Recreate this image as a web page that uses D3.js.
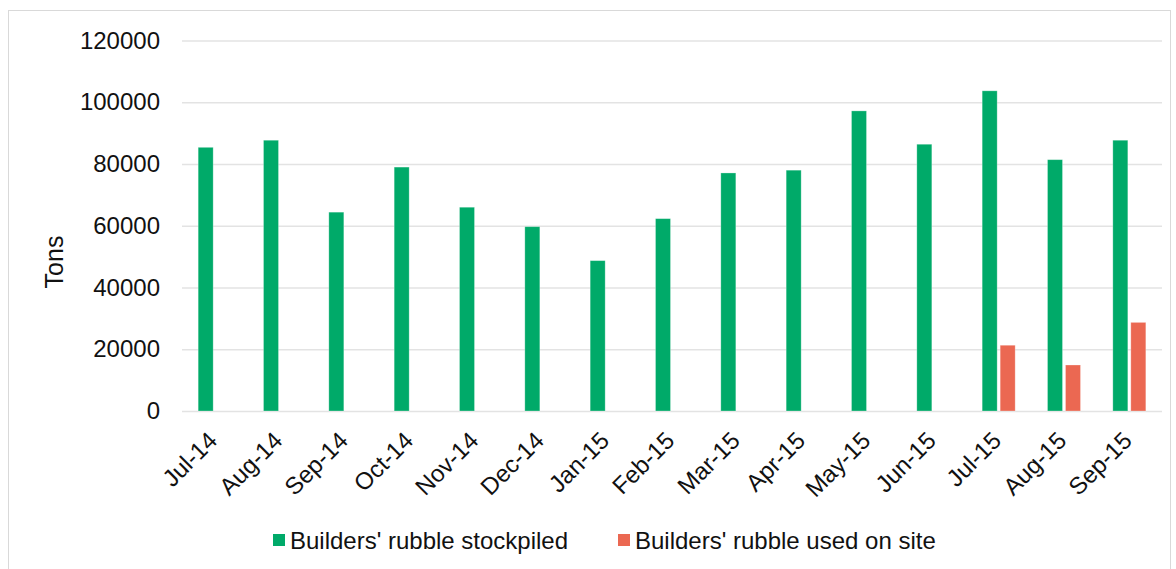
<!DOCTYPE html>
<html>
<head>
    <meta charset="utf-8">
    <title>Builders' rubble</title>
    <script src="https://d3js.org/d3.v7.min.js"></script>
    <style>
        body { margin: 0; background: #fff; }
        text { font-family: 'Liberation Sans', Arial, sans-serif; fill: #111; }
    </style>
</head>
<body>
    <svg id="chart" width="1176" height="569"></svg>

    <script>
        // values
        const months = ["Jul-14", "Aug-14", "Sep-14", "Oct-14", "Nov-14", "Dec-14", "Jan-15",
                        "Feb-15", "Mar-15", "Apr-15", "May-15", "Jun-15", "Jul-15", "Aug-15", "Sep-15"];
        const stockpiled = [85400, 87700, 64400, 79000, 66000, 59700, 48700,
                            62300, 77100, 78000, 97200, 86400, 103700, 81400, 87700];
        const usedOnSite = [0, 0, 0, 0, 0, 0, 0,
                            0, 0, 0, 0, 0, 21300, 14900, 28700];
        const seriesNames = ["Builders' rubble stockpiled", "Builders' rubble used on site"];
        const seriesColors = ["#00aa69", "#eb6852"];
        const yTicks = [0, 20000, 40000, 60000, 80000, 100000, 120000];

        const svg = d3.select("#chart");

        // outer frame
        svg.append("rect")
            .attr("x", 8.5).attr("y", 10.5)
            .attr("width", 1162).attr("height", 600)
            .attr("fill", "none")
            .attr("stroke", "#d9d9d9")
            .attr("stroke-width", 1);

        const plotLeft = 182, plotRight = 1162, plotTop = 40.5, plotBottom = 411;

        let y = d3.scaleLinear().domain([0, 120000]).range([plotBottom, plotTop]);
        let x0 = d3.scaleBand().domain(months).range([plotLeft, plotRight]);
        let half = x0.bandwidth() / 2;
        let x1 = d3.scaleBand().domain(seriesNames)
                    .range([half - 16.5, half + 16.5])
                    .paddingInner(1 / 6);

        // gridlines + y labels
        let yAxis = d3.axisLeft(y).tickValues(yTicks).tickSize(-(plotRight - plotLeft)).tickPadding(22)
                        .tickFormat(d3.format("d"));
        let gy = svg.append("g").attr("transform", `translate(${plotLeft},0)`).call(yAxis);
        gy.select(".domain").remove();
        gy.selectAll("line").attr("stroke", "#e3e3e3").attr("stroke-width", 1.6);
        gy.selectAll("text").attr("font-size", 24).attr("fill", "#111");

        // x labels
        let xAxis = d3.axisBottom(x0).tickSize(0).tickPadding(0);
        let gx = svg.append("g").attr("transform", `translate(0,${plotBottom})`).call(xAxis);
        gx.select(".domain").remove();
        gx.selectAll("text")
            .attr("font-size", 24)
            .attr("fill", "#111")
            .attr("text-anchor", "end")
            .attr("dy", null)
            .attr("y", 0)
            .attr("transform", "translate(4,31) rotate(-45)");

        // bars
        let rows = months.map((m, i) => ({month: m, values: [stockpiled[i], usedOnSite[i]]}));
        let groups = svg.append("g").selectAll("g").data(rows).enter()
            .append("g")
            .attr("transform", d => `translate(${x0(d.month)},0)`);

        groups.selectAll("rect")
            .data(d => d.values.map((v, k) => ({name: seriesNames[k], value: v, k})).filter(d => d.value > 0))
            .enter()
            .append("rect")
            .attr("x", d => x1(d.name))
            .attr("width", x1.bandwidth())
            .attr("y", d => y(d.value))
            .attr("height", d => y(0) - y(d.value))
            .attr("fill", d => seriesColors[d.k])
            .attr("stroke", "#ffffff")
            .attr("stroke-opacity", 0.35)
            .attr("stroke-width", 0.8);

        // y title
        svg.append("text")
            .attr("transform", "translate(63,262) rotate(-90)")
            .attr("text-anchor", "middle")
            .attr("font-size", 25)
            .text("Tons");

        // legend
        const legendX = [273, 618];
        let legend = svg.append("g").selectAll("g").data(seriesNames).enter()
            .append("g")
            .attr("transform", (d, i) => `translate(${legendX[i]},540)`);
        legend.append("rect")
            .attr("x", 0).attr("y", -6)
            .attr("width", 12).attr("height", 12)
            .attr("fill", (d, i) => seriesColors[i]);
        legend.append("text")
            .attr("x", 17).attr("y", 8.5)
            .attr("font-size", 24)
            .text(d => d);
    </script>
</body>
</html>
